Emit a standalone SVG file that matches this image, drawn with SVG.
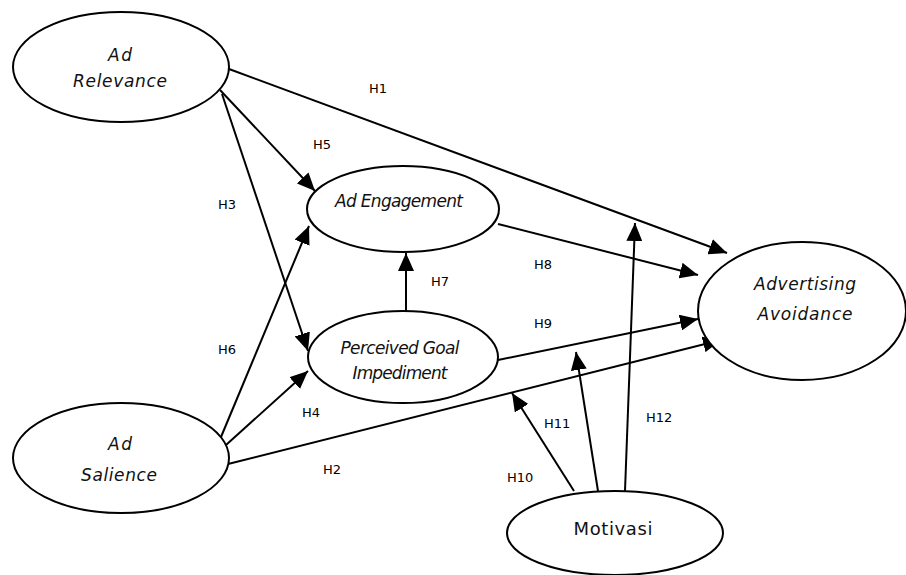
<svg xmlns="http://www.w3.org/2000/svg" width="906" height="575" viewBox="0 0 906 575">
  <style>
    .node ellipse { fill: #ffffff; stroke: #000000; stroke-width: 2; }
    .lbl { font-family: "DejaVu Sans", "Liberation Sans", sans-serif; font-style: italic; font-size: 17px; fill: #111111; text-anchor: middle; }
    .plain { font-family: "DejaVu Sans", "Liberation Sans", sans-serif; font-size: 18px; fill: #111111; text-anchor: middle; }
    .h { font-family: "DejaVu Sans", "Liberation Sans", sans-serif; font-size: 13px; fill: #000000; }
    .edges line { stroke: #000000; stroke-width: 2; fill: none; marker-end: url(#arrow); }
  </style>
  <defs>
    <marker id="arrow" markerUnits="userSpaceOnUse" markerWidth="19" markerHeight="16" refX="18" refY="8" orient="auto">
      <path d="M0,0 L18,8 L0,16 z" fill="#000000"/>
    </marker>
  </defs>
  <rect width="906" height="575" fill="#ffffff"/>

  <!-- connectors -->
  <g id="connectors" class="edges">
    <line x1="229" y1="69" x2="727" y2="253"/>
    <line x1="220" y1="90" x2="315" y2="191"/>
    <line x1="222" y1="94" x2="308" y2="351"/>
    <line x1="221" y1="437" x2="309" y2="226"/>
    <line x1="226" y1="445" x2="308" y2="371"/>
    <line x1="228" y1="464" x2="721" y2="340"/>
    <line x1="498" y1="224" x2="698" y2="275"/>
    <line x1="498" y1="360" x2="698" y2="319"/>
    <line x1="406" y1="311" x2="406" y2="253"/>
    <line x1="574" y1="491" x2="512" y2="393"/>
    <line x1="598" y1="491" x2="576" y2="352"/>
    <line x1="625" y1="491" x2="635" y2="223"/>
  </g>

  <!-- hypothesis labels -->
  <g id="hypotheses" class="h">
    <text x="369" y="93">H1</text>
    <text x="323" y="474">H2</text>
    <text x="218" y="209">H3</text>
    <text x="302" y="417">H4</text>
    <text x="313" y="149">H5</text>
    <text x="218" y="354">H6</text>
    <text x="431" y="286">H7</text>
    <text x="534" y="269">H8</text>
    <text x="534" y="328">H9</text>
    <text x="507" y="482">H10</text>
    <text x="544" y="428">H11</text>
    <text x="646" y="422">H12</text>
  </g>

  <!-- constructs -->
  <g id="ad-relevance" class="node">
    <ellipse cx="121" cy="67" rx="108" ry="55"/>
    <text class="lbl" x="120" y="61" textLength="24">Ad</text>
    <text class="lbl" x="120" y="87" textLength="94">Relevance</text>
  </g>

  <g id="ad-engagement" class="node">
    <ellipse cx="403" cy="209" rx="96" ry="43"/>
    <text class="lbl" x="399" y="207" textLength="128">Ad Engagement</text>
  </g>

  <g id="perceived-goal-impediment" class="node">
    <ellipse cx="403" cy="357" rx="95" ry="46"/>
    <text class="lbl" x="400" y="354" textLength="119">Perceived Goal</text>
    <text class="lbl" x="400" y="379" textLength="95">Impediment</text>
  </g>

  <g id="advertising-avoidance" class="node">
    <ellipse cx="802" cy="311" rx="104" ry="69"/>
    <text class="lbl" x="805" y="290" textLength="102">Advertising</text>
    <text class="lbl" x="805" y="320" textLength="95">Avoidance</text>
  </g>

  <g id="ad-salience" class="node">
    <ellipse cx="121" cy="458" rx="108" ry="55"/>
    <text class="lbl" x="120" y="450" textLength="24">Ad</text>
    <text class="lbl" x="119" y="481" textLength="76">Salience</text>
  </g>

  <g id="motivasi" class="node">
    <ellipse cx="615" cy="533" rx="108" ry="42"/>
    <text class="plain" x="613" y="535" textLength="79">Motivasi</text>
  </g>
</svg>
